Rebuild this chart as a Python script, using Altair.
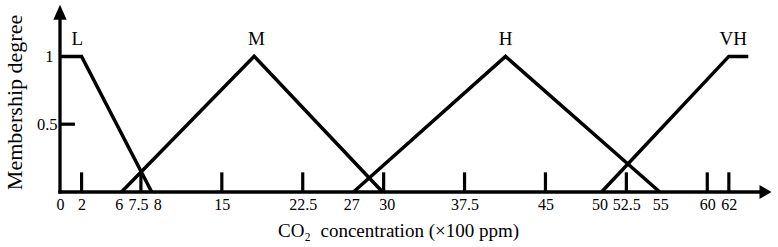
import altair as alt
import pandas as pd

FONT = "Liberation Serif"

# Membership functions (x in x100 ppm, y = membership degree)
sets = ["L", "M", "H", "VH"]
L_x = [0, 2, 8.5]
L_y = [1, 1, 0]
M_x = [5.7, 18, 29.9]
M_y = [0, 1, 0]
H_x = [27.2, 41.3, 55.6]
H_y = [0, 1, 0]
VH_x = [50.2, 62, 63.8]
VH_y = [0, 1, 1]

# set-name annotations
label_names = ["L", "M", "H", "VH"]
label_x = [1.6, 18.2, 41.3, 62.4]
label_y = [1.13, 1.13, 1.13, 1.13]

# axis labels and tick marks
x_label_values = [0, 2, 6, 7.5, 8, 15, 22.5, 27, 30, 37.5, 45, 50, 52.5, 55, 60, 62]
x_tick_values = [2, 7.5, 15, 22.5, 30, 37.5, 45, 52.5, 60, 62]
y_label_values = [0.5, 1]
y_tick_values = [0.5]

X_MAX = 66.0
Y_MAX = 1.401
TICK_LEN = 0.145
YTICK_LEN = 1.39
X_AXIS_END = 65.2
Y_AXIS_END = 1.30
X_ARROW = 65.4
Y_ARROW = 1.326

rows = []
for name, xs_, ys_ in zip(sets, [L_x, M_x, H_x, VH_x], [L_y, M_y, H_y, VH_y]):
    for i, (a, b) in enumerate(zip(xs_, ys_)):
        rows.append({"set": name, "x": a, "y": b, "i": i})
curves = pd.DataFrame(rows)
labels = pd.DataFrame({"name": label_names, "x": label_x, "y": label_y})
xticks = pd.DataFrame({"x": x_tick_values, "y0": 0.0, "y1": TICK_LEN})
yticks = pd.DataFrame({"y": y_tick_values, "x0": 0.0, "x1": YTICK_LEN})
axes_df = pd.DataFrame({"x0": [0.0, 0.0], "x1": [X_AXIS_END, 0.0],
                        "y0": [0.0, 0.0], "y1": [0.0, Y_AXIS_END]})
xarrow = pd.DataFrame({"x": [X_ARROW], "y": [0.0]})
yarrow = pd.DataFrame({"x": [0.0], "y": [Y_ARROW]})

xs = alt.Scale(domain=[0, X_MAX], nice=False, zero=False)
ys = alt.Scale(domain=[0, Y_MAX], nice=False, zero=False)

x_axis = alt.Axis(
    values=x_label_values, domain=False, ticks=False, tickSize=0, grid=False,
    labelExpr="'' + datum.value", labelFont=FONT, labelFontSize=16,
    labelColor="black", labelPadding=12, labelBaseline="middle",
    labelFlush=False, labelBound=False, labelOverlap=False,
    labelOffset={"condition": [
        {"test": "datum.value === 8", "value": 11},
        {"test": "datum.value === 6", "value": -6},
        {"test": "datum.value === 7.5", "value": -3},
        {"test": "datum.value === 55", "value": 7},
        {"test": "datum.value === 30", "value": 3},
    ], "value": 0},
    title="CO\u2082\u00a0\u00a0concentration (\u00d7100 ppm)", titleFont=FONT, titleFontSize=19,
    titleFontWeight="normal", titleColor="black", titleX=338, titleY=38,
    titleBaseline="middle", titleAlign="center", titleAnchor="start",
)
y_axis = alt.Axis(
    values=y_label_values, domain=False, ticks=False, tickSize=0, grid=False,
    labelExpr="'' + datum.value", labelFont=FONT, labelFontSize=16.5,
    labelColor="black", labelBaseline="middle", labelAlign="right",
    labelPadding={"condition": {"test": "datum.value === 1", "value": 7}, "value": 3},
    labelFlush=False, labelBound=False, labelOverlap=False,
    title="Membership degree", titleFont=FONT, titleFontSize=22,
    titleFontWeight="normal", titleColor="black", titleX=-46, titleY=100,
    titleAngle=270, titleBaseline="middle", titleAlign="center", titleAnchor="start",
)


def X(field):
    return alt.X(field, type="quantitative", scale=xs, axis=x_axis)


def Y(field):
    return alt.Y(field, type="quantitative", scale=ys, axis=y_axis)


lines = alt.Chart(curves).mark_line(color="black", strokeWidth=3.5, strokeJoin="miter").encode(
    x=X("x"), y=Y("y"), detail="set:N", order="i:Q",
)

axis_lines = alt.Chart(axes_df).mark_rule(color="black", strokeWidth=3.3, strokeCap="square").encode(
    x=X("x0"), x2="x1:Q", y=Y("y0"), y2="y1:Q",
)

tick_marks = alt.Chart(xticks).mark_rule(color="black", strokeWidth=3.2).encode(
    x=X("x"), y=Y("y0"), y2="y1:Q",
)

ytick_marks = alt.Chart(yticks).mark_rule(color="black", strokeWidth=3.2).encode(
    y=Y("y"), x=X("x0"), x2="x1:Q",
)

arrow_x = alt.Chart(xarrow).mark_point(
    shape="M1,0L-1,1.17L-1,-1.17Z", filled=True, color="black", opacity=1, size=144, strokeWidth=0
).encode(x=X("x"), y=Y("y"))

arrow_y = alt.Chart(yarrow).mark_point(
    shape="M0,-1L0.89,1L-0.89,1Z", filled=True, color="black", opacity=1, size=225, strokeWidth=0
).encode(x=X("x"), y=Y("y"))

set_labels = alt.Chart(labels).mark_text(
    font=FONT, fontSize=19, color="black", align="center", baseline="middle"
).encode(x=X("x"), y=Y("y"), text="name:N")

chart = alt.layer(
    axis_lines, tick_marks, ytick_marks, lines, arrow_x, arrow_y, set_labels
).properties(
    width=712, height=190,
    autosize="none",
    padding={"left": 60, "top": 2, "right": 6, "bottom": 55},
    background="white",
).configure_view(stroke=None)

chart.save("out.html", embed_options={"renderer": "svg", "actions": False})
